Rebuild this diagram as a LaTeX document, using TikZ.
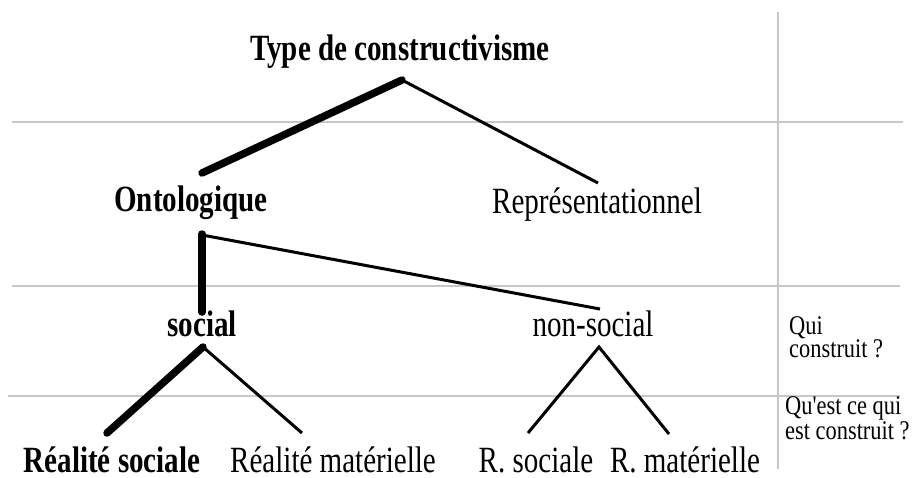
\documentclass[tikz,border=0pt]{standalone}
\usepackage{fontspec}
\setmainfont{Liberation Serif}[FakeStretch=0.785]
\newfontfamily\qfont{Liberation Serif}[FakeStretch=0.83]
\begin{document}
\begin{tikzpicture}[x=1pt,y=-1pt,
  lab/.style={anchor=base, inner sep=0pt, font=\fontsize{37}{40}\selectfont},
  blab/.style={anchor=base, inner sep=0pt, font=\fontsize{37}{40}\selectfont\bfseries},
  qlab/.style={anchor=base west, inner sep=0pt, align=left, font=\qfont\fontsize{27}{22.5}\selectfont},
  thicklink/.style={draw=black, line width=7.5pt, line cap=round, line join=round},
  thinlink/.style={draw=black, line width=3pt},
  gridline/.style={draw=black!22, line width=1.3pt}
]
\useasboundingbox (0,0) rectangle (912,477);
% grid
\draw[gridline] (12,122) -- (903,122);
\draw[gridline] (12,286) -- (900,286);
\draw[gridline] (8,396) -- (900,396);
\draw[gridline] (778,12) -- (778,469);
% nodes
\node[blab] (title) at (400,60) {Type de constructivisme};
\node[blab] (ont) at (191,211) {Ontologique};
\node[lab] (rep) at (597,213) {Représentationnel};
\node[blab] (soc) at (202,336) {social};
\node[lab] (non) at (593,336) {non-social};
\node[blab] (rs) at (112,472) {Réalité sociale};
\node[lab] (rm) at (333,472) {Réalité matérielle};
\node[lab] (nrs) at (536,472) {R. sociale};
\node[lab] (nrm) at (685,472) {R. matérielle};
\node[qlab] (qui) at (789,357) {Qui\\construit ?};
\node[qlab] (quoi) at (785,439) {Qu'est ce qui\\est construit ?};
% connectors
\draw[thicklink] ([shift={(11,-38)}]ont.base) -- ([shift={(2,20)}]title.base);
\draw[thinlink] ([shift={(2,20)}]title.base) -- ([shift={(1,-30)}]rep.base);
\draw[thicklink] ([shift={(11,23)}]ont.base) -- ([shift={(0,-24)}]soc.base);
\draw[thinlink] ([shift={(11,24)}]ont.base) -- ([shift={(7,-27)}]non.base);
\draw[thicklink] ([shift={(-5,-39)}]rs.base) -- ([shift={(1,11)}]soc.base);
\draw[thinlink] ([shift={(1,11)}]soc.base) -- ([shift={(-31,-39)}]rm.base);
\draw[thinlink] ([shift={(-8,-39)}]nrs.base) -- ([shift={(6,11)}]non.base) -- ([shift={(-16,-38)}]nrm.base);
\end{tikzpicture}
\end{document}
